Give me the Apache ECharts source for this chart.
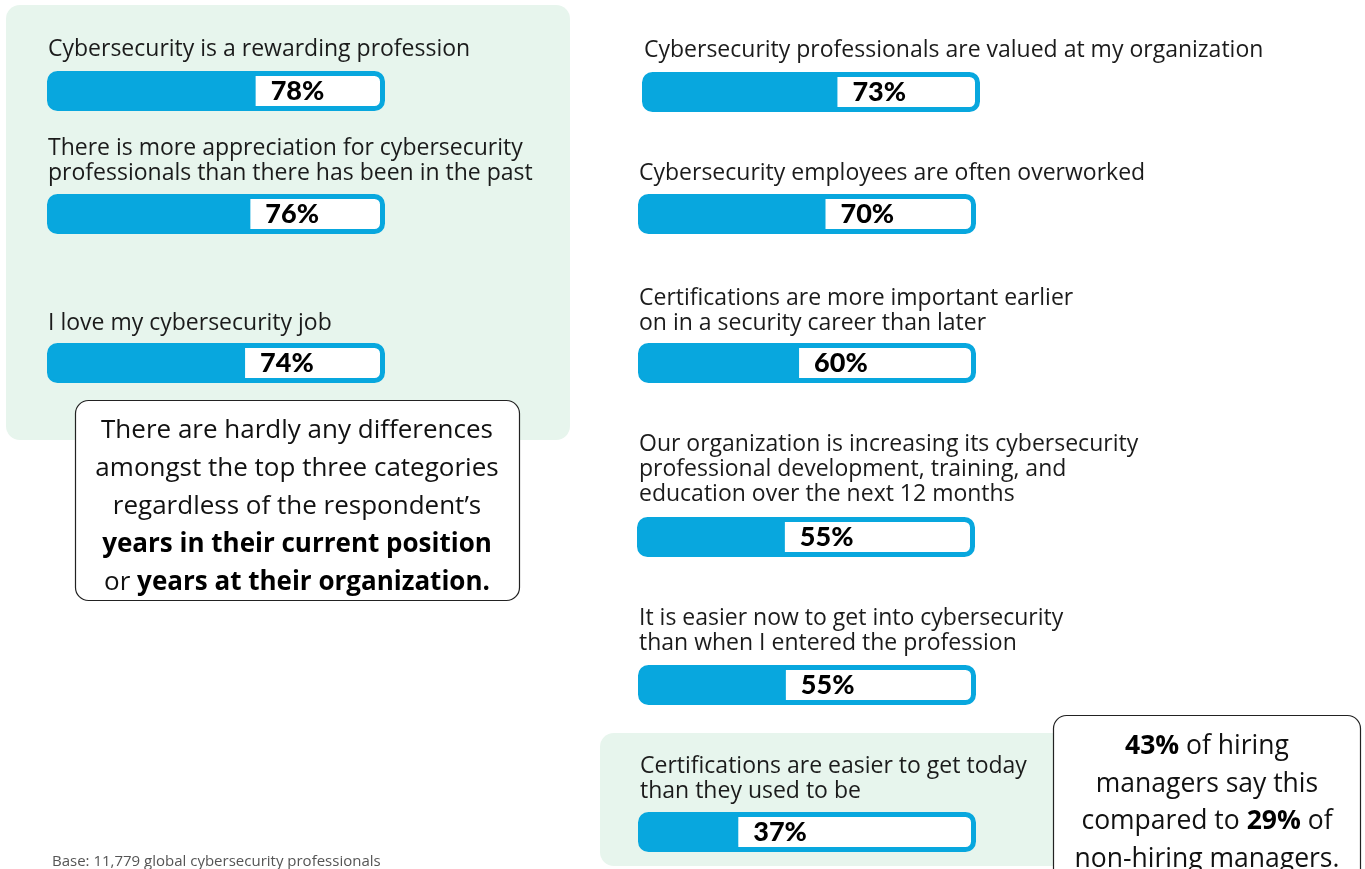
<!DOCTYPE html>
<html>
<head>
<meta charset="utf-8">
<script src="https://cdn.jsdelivr.net/npm/echarts@6/dist/echarts.min.js"></script>
<style>
  html, body { margin: 0; padding: 0; background: #ffffff; }
  #chart { width: 1365px; height: 869px; }
</style>
</head>
<body>
<div id="chart"></div>
<script>
// Survey statements and the share of respondents who agree
const statements = [
  'Cybersecurity is a rewarding profession',
  'There is more appreciation for cybersecurity\nprofessionals than there has been in the past',
  'I love my cybersecurity job',
  'Cybersecurity professionals are valued at my organization',
  'Cybersecurity employees are often overworked',
  'Certifications are more important earlier\non in a security career than later',
  'Our organization is increasing its cybersecurity\nprofessional development, training, and\neducation over the next 12 months',
  'It is easier now to get into cybersecurity\nthan when I entered the profession',
  'Certifications are easier to get today\nthan they used to be'
];
const agreePct = [78, 76, 74, 73, 70, 60, 55, 55, 37];

const calloutTop = [
  'There are hardly any differences',
  'amongst the top three categories',
  'regardless of the respondent\u2019s',
  '{b|years in their current position}',
  'or {b|years at their organization.}'
];
const calloutHiring = [
  '{b|43%} of hiring',
  'managers say this',
  'compared to {b|29%} of',
  'non-hiring managers.'
];
const baseNote = 'Base: 11,779 global cybersecurity professionals';

// Layout of each progress bar: outer left/top of the track, and where its caption starts
const barBox = [
  { x: 47,  y: 71,  tx: 48,  ty: 49 },
  { x: 47,  y: 194, tx: 48,  ty: 148 },
  { x: 47,  y: 343, tx: 48,  ty: 323 },
  { x: 642, y: 72,  tx: 644, ty: 50 },
  { x: 638, y: 194, tx: 639, ty: 173 },
  { x: 638, y: 343, tx: 639, ty: 298 },
  { x: 637, y: 517, tx: 639, ty: 444 },
  { x: 638, y: 665, tx: 639, ty: 618 },
  { x: 638, y: 812, tx: 640, ty: 766 }
];

const BLUE = '#08a7de';
const MINT = '#e7f5ed';
const INK = '#1b1b1b';
const FONT = '"Open Sans", Lato, sans-serif';
const HEAVY = 'Lato, "Open Sans", sans-serif';
const TRACK_W = 338, TRACK_H = 40, BORDER = 5;
const AXIS_MAX = 126;
const LINE_H = 25;

const grids = [], xAxes = [], yAxes = [], series = [], titles = [];

barBox.forEach(function (b, i) {
  grids.push({
    left: b.x + BORDER / 2,
    top: b.y + BORDER / 2,
    width: TRACK_W - BORDER,
    height: TRACK_H - BORDER,
    containLabel: false
  });
  xAxes.push({ gridIndex: i, type: 'value', min: 0, max: AXIS_MAX, show: false });
  yAxes.push({ gridIndex: i, type: 'category', data: [statements[i]], show: false });
  series.push({
    type: 'bar',
    xAxisIndex: i,
    yAxisIndex: i,
    data: [agreePct[i]],
    barWidth: TRACK_H - BORDER,
    showBackground: true,
    backgroundStyle: {
      color: '#ffffff',
      borderColor: BLUE,
      borderWidth: BORDER,
      borderRadius: 8
    },
    itemStyle: { color: BLUE, borderRadius: [6, 0, 0, 6] },
    label: {
      show: true,
      position: 'right',
      distance: 15,
      formatter: '{c}%',
      color: '#000000',
      fontFamily: HEAVY,
      fontWeight: 900,
      fontSize: 27
    },
    silent: true,
    animation: false
  });
  titles.push({
    text: statements[i],
    left: b.tx,
    top: b.ty - LINE_H / 2,
    padding: 0,
    textStyle: {
      fontFamily: FONT,
      fontSize: 23,
      fontWeight: 'normal',
      color: INK,
      lineHeight: LINE_H
    }
  });
});

function calloutText(lines, x, y, size, lh) {
  return {
    type: 'text', z: 51, x: x, y: y,
    style: {
      text: lines.join('\n'),
      fontFamily: FONT, fontSize: size, lineHeight: lh,
      fill: '#111111', align: 'center', verticalAlign: 'top',
      textAlign: 'center', textVerticalAlign: 'top',
      rich: {
        b: { fontFamily: FONT, fontWeight: 'bold', fontSize: size, lineHeight: lh, fill: '#000000', color: '#000000' }
      }
    }
  };
}

const graphics = [
  // shaded panels behind the highlighted groups
  { type: 'rect', z: 0, shape: { x: 6, y: 5, width: 564, height: 435, r: 14 }, style: { fill: MINT } },
  { type: 'rect', z: 0, shape: { x: 600, y: 733, width: 480, height: 133, r: 14 }, style: { fill: MINT } },
  // callout boxes
  { type: 'rect', z: 50, shape: { x: 75.5, y: 400.5, width: 444, height: 200, r: 13 },
    style: { fill: '#ffffff', stroke: '#222222', lineWidth: 1.2 } },
  { type: 'rect', z: 50, shape: { x: 1053.5, y: 715.5, width: 307, height: 180, r: 13 },
    style: { fill: '#ffffff', stroke: '#222222', lineWidth: 1.2 } },
  calloutText(calloutTop, 297, 412, 26, 38),
  calloutText(calloutHiring, 1207, 728, 26.5, 37.5),
  { type: 'text', z: 51, x: 52, y: 862,
    style: {
      text: baseNote, fontFamily: FONT, fontSize: 15, fill: '#555555',
      textVerticalAlign: 'middle', verticalAlign: 'middle'
    } }
];

const chart = echarts.init(document.getElementById('chart'), null, { renderer: 'canvas' });
chart.setOption({
  backgroundColor: '#ffffff',
  animation: false,
  title: titles,
  grid: grids,
  xAxis: xAxes,
  yAxis: yAxes,
  series: series,
  graphic: { elements: graphics }
});
</script>
</body>
</html>
